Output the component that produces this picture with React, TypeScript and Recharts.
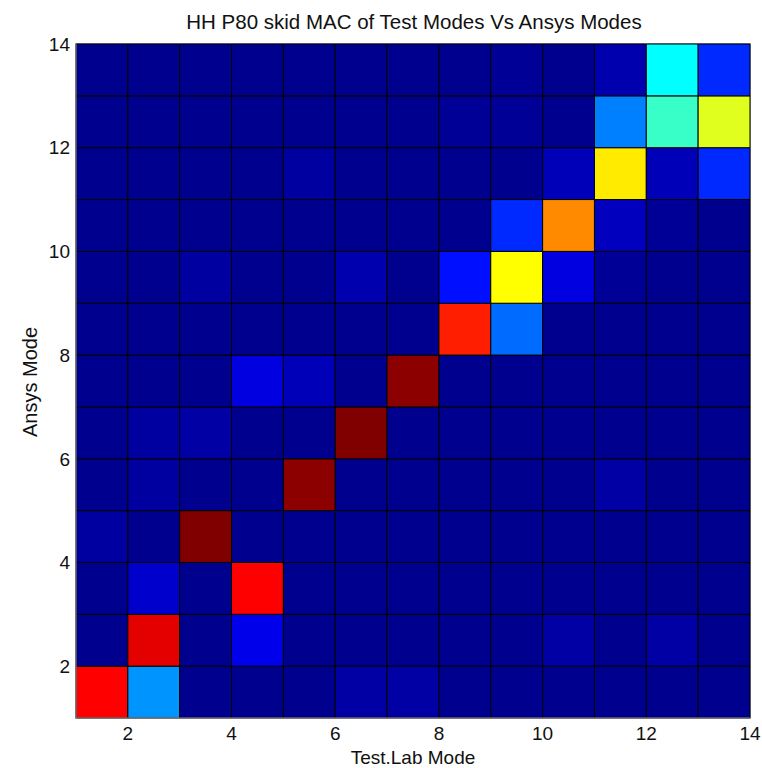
import { ScatterChart, Scatter, XAxis, YAxis, ReferenceArea } from 'recharts';

// MAC matrix, rows = Ansys mode 1..13 (bottom to top),
// columns = Test.Lab mode 1..13 (left to right), already normalised to the colour scale
const testModes = [1, 2, 3, 4, 5, 6, 7, 8, 9, 10, 11, 12, 13];
const axisTicks = [2, 4, 6, 8, 10, 12, 14];

const ansys1 = [0.875, 0.27, 0.015, 0.015, 0.015, 0.037, 0.037, 0.015, 0.015, 0.015, 0.015, 0.015, 0.015];
const ansys2 = [0.015, 0.9, 0.015, 0.105, 0.015, 0.015, 0.015, 0.015, 0.015, 0.037, 0.015, 0.037, 0.015];
const ansys3 = [0.015, 0.076, 0.015, 0.875, 0.015, 0.015, 0.015, 0.015, 0.015, 0.015, 0.015, 0.015, 0.015];
const ansys4 = [0.032, 0.015, 1.0, 0.015, 0.015, 0.015, 0.015, 0.015, 0.015, 0.015, 0.015, 0.015, 0.015];
const ansys5 = [0.015, 0.032, 0.015, 0.015, 0.988, 0.015, 0.015, 0.015, 0.015, 0.015, 0.037, 0.015, 0.015];
const ansys6 = [0.015, 0.032, 0.037, 0.015, 0.015, 1.0, 0.015, 0.015, 0.015, 0.015, 0.015, 0.015, 0.015];
const ansys7 = [0.015, 0.015, 0.015, 0.096, 0.056, 0.015, 0.988, 0.015, 0.015, 0.015, 0.015, 0.015, 0.015];
const ansys8 = [0.015, 0.015, 0.015, 0.015, 0.015, 0.015, 0.015, 0.845, 0.23, 0.015, 0.015, 0.015, 0.015];
const ansys9 = [0.015, 0.015, 0.032, 0.015, 0.015, 0.047, 0.015, 0.14, 0.625, 0.096, 0.022, 0.015, 0.015];
const ansys10 = [0.015, 0.015, 0.015, 0.015, 0.015, 0.015, 0.015, 0.015, 0.165, 0.74, 0.061, 0.022, 0.015];
const ansys11 = [0.015, 0.015, 0.015, 0.015, 0.032, 0.015, 0.015, 0.015, 0.015, 0.056, 0.645, 0.056, 0.165];
const ansys12 = [0.015, 0.015, 0.015, 0.015, 0.015, 0.015, 0.015, 0.022, 0.022, 0.015, 0.25, 0.43, 0.595];
const ansys13 = [0.015, 0.015, 0.015, 0.015, 0.015, 0.015, 0.015, 0.015, 0.022, 0.015, 0.047, 0.375, 0.165];

const macRows = [ansys1, ansys2, ansys3, ansys4, ansys5, ansys6, ansys7, ansys8, ansys9, ansys10, ansys11, ansys12, ansys13];

// matlab style jet colormap
function jet(v: number) {
  const c = (t: number) => Math.round(255 * Math.max(0, Math.min(1, 1.5 - Math.abs(t))));
  return `rgb(${c(4 * v - 3)},${c(4 * v - 2)},${c(4 * v - 1)})`;
}

const cells = macRows.flatMap((row, i) =>
  row.map((mac, j) => ({ x: testModes[j] + 0.5, y: testModes[i] + 0.5, col: testModes[j], ansys: testModes[i], mac }))
);

const font = '"Liberation Sans", Arial, sans-serif';

export default function App() {
  return (
    <div style={{ position: 'absolute', left: 0, top: 0, width: 762, height: 768, background: '#fff', fontFamily: font, color: '#111', overflow: 'hidden' }}>
      <div style={{ position: 'absolute', left: 0, width: 828, top: 12.4, fontSize: 20.5, lineHeight: '20px', textAlign: 'center', whiteSpace: 'nowrap' }}>
        HH P80 skid MAC of Test Modes Vs Ansys Modes
      </div>
      <ScatterChart width={762} height={768} margin={{ top: 44, right: 12, bottom: 0, left: 0 }}>
        <XAxis
          type="number"
          dataKey="x"
          domain={[1, 14]}
          ticks={axisTicks}
          interval={0}
          allowDataOverflow
          tickLine={false}
          tickSize={0}
          tickMargin={9}
          height={50}
          axisLine={{ stroke: '#999' }}
          tick={{ fill: '#111', fontSize: 19, fontFamily: font }}
        />
        <YAxis
          type="number"
          dataKey="y"
          domain={[1, 14]}
          ticks={axisTicks}
          interval={0}
          allowDataOverflow
          tickLine={false}
          tickSize={0}
          tickMargin={6}
          width={76}
          axisLine={{ stroke: '#999' }}
          tick={{ fill: '#111', fontSize: 19, fontFamily: font }}
        />
        <ReferenceArea x1={1} x2={14} y1={1} y2={14} fill="none" fillOpacity={0} stroke="#aaa" strokeWidth={2} />
        {cells.map((c) => (
          <ReferenceArea
            key={`${c.col}-${c.ansys}`}
            x1={c.col}
            x2={c.col + 1}
            y1={c.ansys}
            y2={c.ansys + 1}
            fill={jet(c.mac)}
            fillOpacity={1}
            stroke="#000"
            strokeWidth={1}
          />
        ))}
        <Scatter data={cells} isAnimationActive={false} shape={() => <g />} legendType="none" />
      </ScatterChart>
      <div style={{ position: 'absolute', left: 0, width: 826, top: 749.5, fontSize: 19, lineHeight: '16px', textAlign: 'center', whiteSpace: 'nowrap' }}>
        Test.Lab Mode
      </div>
      <div
        style={{
          position: 'absolute',
          left: 30,
          top: 382,
          fontSize: 20,
          lineHeight: '19px',
          whiteSpace: 'nowrap',
          transform: 'translate(-50%, -50%) rotate(-90deg)',
        }}
      >
        Ansys Mode
      </div>
    </div>
  );
}
